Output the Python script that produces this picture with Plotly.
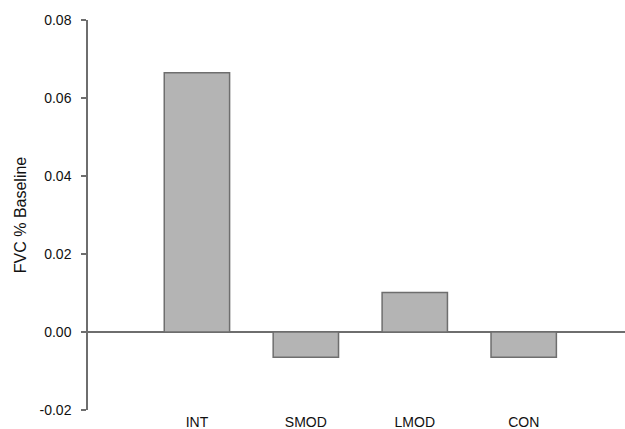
import plotly.graph_objects as go

# Change in FVC relative to baseline, by group
groups = ["INT", "SMOD", "LMOD", "CON"]
fvc_change = [0.0665, -0.0065, 0.0101, -0.0065]

y_ticks = [-0.02, 0.00, 0.02, 0.04, 0.06, 0.08]
y_tick_text = ["-0.02", "0.00", "0.02", "0.04", "0.06", "0.08"]

fig = go.Figure(
    go.Bar(
        x=groups,
        y=fvc_change,
        width=0.6,
        marker=dict(color="#b4b4b4", line=dict(color="#6e6e6e", width=1.5)),
    )
)

fig.update_layout(
    width=625,
    height=429,
    margin=dict(l=88, r=0, t=20, b=19),
    paper_bgcolor="white",
    plot_bgcolor="white",
    showlegend=False,
    font=dict(family="Liberation Sans, Arial, sans-serif", color="#111111", size=14),
)

fig.update_xaxes(
    range=[-1.0, 3.93],
    showgrid=False,
    showline=False,
    zeroline=False,
    ticks="",
    tickfont=dict(size=14, color="#111111"),
    ticklabelstandoff=2,
)

fig.update_yaxes(
    range=[-0.02, 0.08],
    tickvals=y_ticks,
    ticktext=y_tick_text,
    showgrid=False,
    showline=True,
    linecolor="#6e6e6e",
    linewidth=1.5,
    ticks="outside",
    ticklen=5,
    tickwidth=1.5,
    tickcolor="#6e6e6e",
    tickfont=dict(size=14, color="#111111"),
    ticklabelstandoff=7,
    zeroline=True,
    zerolinecolor="#6e6e6e",
    zerolinewidth=1.5,
    title=dict(text="FVC % Baseline", font=dict(size=16, color="#111111"), standoff=9),
)

fig.write_html("out.html")
